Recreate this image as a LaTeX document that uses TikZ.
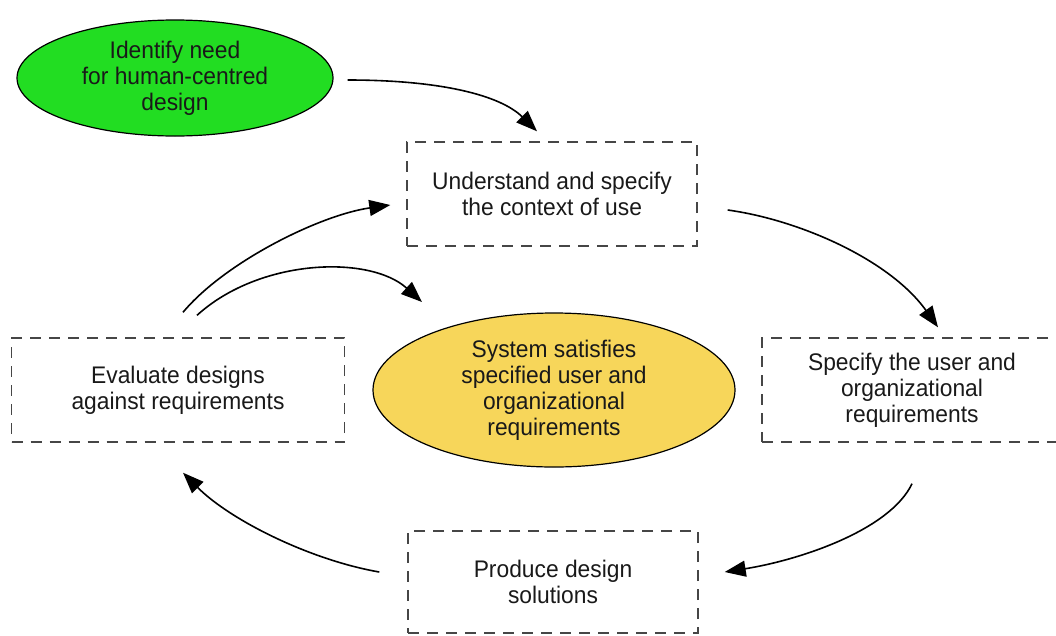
\documentclass[tikz,border=0pt]{standalone}
\usepackage{fontspec}
\setmainfont{Liberation Sans}[FakeStretch=0.95]
\usetikzlibrary{arrows.meta,shapes.geometric,calc}
\definecolor{startgreen}{RGB}{34,221,34}
\definecolor{goalyellow}{RGB}{247,214,90}
\definecolor{dashgray}{RGB}{70,70,70}
\begin{document}
\begin{tikzpicture}[x=1pt,y=-1pt,
  every node/.style={font=\fontsize{24}{26}\selectfont, align=center, text=black!90},
  stage/.style={draw=dashgray, line width=1.4pt, dash pattern=on 11pt off 8pt,
    minimum width=290pt, minimum height=104pt, inner sep=0pt},
  bubble/.style={ellipse, draw=black, line width=1.2pt, inner sep=0pt},
  flow/.style={line width=1.6pt, -{Triangle[length=21pt,width=16pt]}}]
\useasboundingbox (0,0) rectangle (1056,635);
\clip (0,0) rectangle (1056,635);

% process stages
\node[stage] (ctx) at (552,194) {Understand and specify\\the context of use};
\node[stage, minimum width=300pt] (spec) at (912,390) {Specify the user and\\organizational\\requirements};
\node[stage, minimum width=333pt] (eval) at (178,390) {Evaluate designs\\against requirements};
\node[stage, minimum height=102pt] (prod) at (553,582) {Produce design\\solutions};

% start and goal
\node[bubble, fill=startgreen, minimum width=316pt, minimum height=116pt] (need) at (175,78)
  {Identify need\\for human-centred\\design};
\node[bubble, fill=goalyellow, minimum width=362pt, minimum height=154pt] (goal) at (554,390)
  {System satisfies\\specified user and\\organizational\\requirements};

% connector end points
\coordinate (a1s) at ($(need.east)+(14,2)$);
\coordinate (a1e) at ($(ctx.north)+(-15,-10)$);
\coordinate (a2s) at ($(ctx.east)+(30,16)$);
\coordinate (a2e) at ($(spec.north)+(26,-10)$);
\coordinate (a3s) at ($(spec.south)+(0,41)$);
\coordinate (a3e) at ($(prod.east)+(26,-10)$);
\coordinate (a4s) at ($(prod.west)+(-28,-10)$);
\coordinate (a4e) at ($(eval.south)+(5,30)$);
\coordinate (a5s) at ($(eval.north)+(5,-25)$);
\coordinate (a5e) at ($(ctx.west)+(-16,11)$);
\coordinate (a6s) at ($(eval.north)+(19,-22)$);
\coordinate (a6e) at ($(goal.center)+(-132,-88)$);

% the design cycle
\draw[flow] (a1s) .. controls (440,80) and (500,95) .. (a1e);
\draw[flow] (a2s) .. controls (800,220) and (890,260) .. (a2e);
\draw[flow] (a3s) .. controls (890,530) and (800,560) .. (a3e);
\draw[flow] (a4s) .. controls (310,560) and (230,520) .. (a4e);
\draw[flow] (a5s) .. controls (225,262) and (320,215) .. (a5e);
\draw[flow] (a6s) .. controls (260,258) and (370,255) .. (a6e);
\end{tikzpicture}
\end{document}
